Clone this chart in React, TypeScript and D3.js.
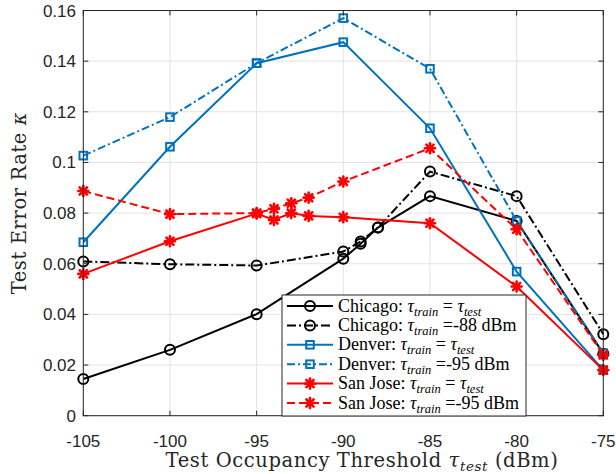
import React from 'react';
import * as d3 from 'd3';

// x positions (dBm) for each city
const chicagoX = [-105, -100, -95, -90, -89, -88, -85, -80, -75];
const chicagoSame = [0.0145, 0.026, 0.0401, 0.062, 0.0679, 0.0743, 0.0867, 0.0769, 0.0245];
const chicagoFixed = [0.0609, 0.0598, 0.0593, 0.0648, 0.0688, 0.0743, 0.0964, 0.0867, 0.0322];

const denverX = [-105, -100, -95, -90, -85, -80, -75];
const denverSame = [0.0685, 0.1062, 0.1392, 0.1475, 0.1135, 0.0569, 0.018];
const denverFixed = [0.1027, 0.1179, 0.1392, 0.157, 0.137, 0.0769, 0.0247];

const sanJoseX = [-105, -100, -95, -94, -93, -92, -90, -85, -80, -75];
const sanJoseSame = [0.056, 0.0689, 0.0798, 0.0773, 0.08, 0.0789, 0.0784, 0.076, 0.051, 0.018];
const sanJoseFixed = [0.0887, 0.0796, 0.08, 0.0817, 0.0839, 0.0861, 0.0925, 0.1056, 0.0736, 0.024];

const xTicks = [-105, -100, -95, -90, -85, -80, -75];
const yTicks = [0, 0.02, 0.04, 0.06, 0.08, 0.1, 0.12, 0.14, 0.16];

type Marker = 'circle' | 'square' | 'star';
interface Series {
  city: string;
  fixed: string | null;
  xs: number[];
  ys: number[];
  color: string;
  dash: string | null;
  marker: Marker;
}

const series: Series[] = [
  { city: 'Chicago', fixed: null, xs: chicagoX, ys: chicagoSame, color: '#000000', dash: null, marker: 'circle' },
  { city: 'Chicago', fixed: '-88', xs: chicagoX, ys: chicagoFixed, color: '#000000', dash: '9,3,2,3', marker: 'circle' },
  { city: 'Denver', fixed: null, xs: denverX, ys: denverSame, color: '#0072BD', dash: null, marker: 'square' },
  { city: 'Denver', fixed: '-95', xs: denverX, ys: denverFixed, color: '#0072BD', dash: '8,3,2,3', marker: 'square' },
  { city: 'San Jose', fixed: null, xs: sanJoseX, ys: sanJoseSame, color: '#FF0000', dash: null, marker: 'star' },
  { city: 'San Jose', fixed: '-95', xs: sanJoseX, ys: sanJoseFixed, color: '#FF0000', dash: '8,4', marker: 'star' },
];

const left = 83.3, right = 603.3, top = 10.5, bottom = 415.7;
const axisColor = '#262626';

const drawMarker = (m: Marker, x: number, y: number, color: string, key: string) => {
  if (m === 'circle') {
    return <circle key={key} cx={x} cy={y} r={5} fill="none" stroke={color} strokeWidth={2} />;
  }
  if (m === 'square') {
    return <rect key={key} x={x - 3.8} y={y - 3.8} width={7.6} height={7.6} fill="none" stroke={color} strokeWidth={2} />;
  }
  const r = 5;
  const d = r * 0.72;
  return (
    <g key={key} stroke={color} strokeWidth={2.6} strokeLinecap="round">
      <line x1={x - r} y1={y} x2={x + r} y2={y} />
      <line x1={x} y1={y - r} x2={x} y2={y + r} />
      <line x1={x - d} y1={y - d} x2={x + d} y2={y + d} />
      <line x1={x - d} y1={y + d} x2={x + d} y2={y - d} />
      <circle cx={x} cy={y} r={3} fill={color} stroke="none" />
    </g>
  );
};

const App = () => {
  const x = d3.scaleLinear().domain([-105, -75]).range([left, right]);
  const y = d3.scaleLinear().domain([0, 0.16]).range([bottom, top]);

  const line = d3.line<[number, number]>()
    .x(d => x(d[0]))
    .y(d => y(d[1]));

  const serif = '"Liberation Serif", "Times New Roman", serif';
  const wideSerif = '"DejaVu Serif", serif';
  const sans = '"Liberation Sans", Arial, Helvetica, sans-serif';

  const legendX = 282, legendY = 295, legendW = 244, legendH = 121;

  return (
    <svg width={616} height={474} style={{ position: 'absolute', left: 0, top: 0, background: '#fff' }}>
      <rect x={0} y={0} width={616} height={474} fill="#fff" />
      {/* grid */}
      <g stroke="#e3e3e3" strokeWidth={1}>
        {xTicks.map(t => <line key={'gx' + t} x1={x(t)} x2={x(t)} y1={top} y2={bottom} />)}
        {yTicks.map(t => <line key={'gy' + t} x1={left} x2={right} y1={y(t)} y2={y(t)} />)}
      </g>

      {/* series */}
      {series.map((s, i) => {
        const pts = s.xs.map((v, j) => [v, s.ys[j]] as [number, number]);
        return (
          <g key={'s' + i}>
            <path d={line(pts) || ''} fill="none" stroke={s.color} strokeWidth={2}
              strokeDasharray={s.dash || undefined} />
            {pts.map((p, j) => drawMarker(s.marker, x(p[0]), y(p[1]), s.color, 'm' + i + '-' + j))}
          </g>
        );
      })}

      {/* axes box and ticks */}
      <g stroke={axisColor} strokeWidth={1} fill="none">
        <rect x={left} y={top} width={right - left} height={bottom - top} />
        {xTicks.map(t => (
          <g key={'tx' + t}>
            <line x1={x(t)} x2={x(t)} y1={bottom} y2={bottom - 5} />
            <line x1={x(t)} x2={x(t)} y1={top} y2={top + 5} />
          </g>
        ))}
        {yTicks.map(t => (
          <g key={'ty' + t}>
            <line x1={left} x2={left + 5} y1={y(t)} y2={y(t)} />
            <line x1={right} x2={right - 5} y1={y(t)} y2={y(t)} />
          </g>
        ))}
      </g>

      {/* tick labels */}
      <g fontFamily={sans} fontSize={17} fill={axisColor}>
        {xTicks.map(t => (
          <text key={'lx' + t} x={x(t)} y={447} textAnchor="middle">{t}</text>
        ))}
        {yTicks.map(t => (
          <text key={'ly' + t} x={76} y={y(t) + 6} textAnchor="end">{d3.format('~g')(t)}</text>
        ))}
      </g>

      {/* axis labels */}
      <text x={362} y={467} textAnchor="middle" fontFamily={wideSerif} fontSize={19.5}
        letterSpacing={0.6} fill={axisColor}>
        Test Occupancy Threshold <tspan fontStyle="italic">τ</tspan>
        <tspan fontStyle="italic" fontSize={13.5} dy={4}>test</tspan>
        <tspan dy={-4}> (dBm)</tspan>
      </text>
      <text transform={`translate(26,${(top + bottom) / 2 - 10}) rotate(-90)`} textAnchor="middle"
        fontFamily={wideSerif} fontSize={19.5} letterSpacing={0.6} fill={axisColor}>
        Test Error Rate <tspan fontStyle="italic">κ</tspan>
      </text>

      {/* legend */}
      <g>
        <rect x={legendX} y={legendY} width={legendW} height={legendH} fill="#fff" stroke={axisColor} strokeWidth={1} />
        {series.map((s, i) => {
          const cy = legendY + 11 + i * 19.4;
          return (
            <g key={'lg' + i}>
              <line x1={287} x2={333} y1={cy} y2={cy} stroke={s.color} strokeWidth={2}
                strokeDasharray={s.dash || undefined} />
              {drawMarker(s.marker, 310, cy, s.color, 'lm' + i)}
              <text x={338} y={cy + 5.5} fontFamily={serif} fontSize={18} fill="#000">
                {s.city}: <tspan fontStyle="italic">τ</tspan>
                <tspan fontStyle="italic" fontSize={12.5} dy={4}>train</tspan>
                {s.fixed === null ? (
                  <>
                    <tspan dy={-4}> = </tspan>
                    <tspan fontStyle="italic">τ</tspan>
                    <tspan fontStyle="italic" fontSize={12.5} dy={4}>test</tspan>
                  </>
                ) : (
                  <tspan dy={-4}> ={s.fixed} dBm</tspan>
                )}
              </text>
            </g>
          );
        })}
      </g>
    </svg>
  );
};

export default App;
